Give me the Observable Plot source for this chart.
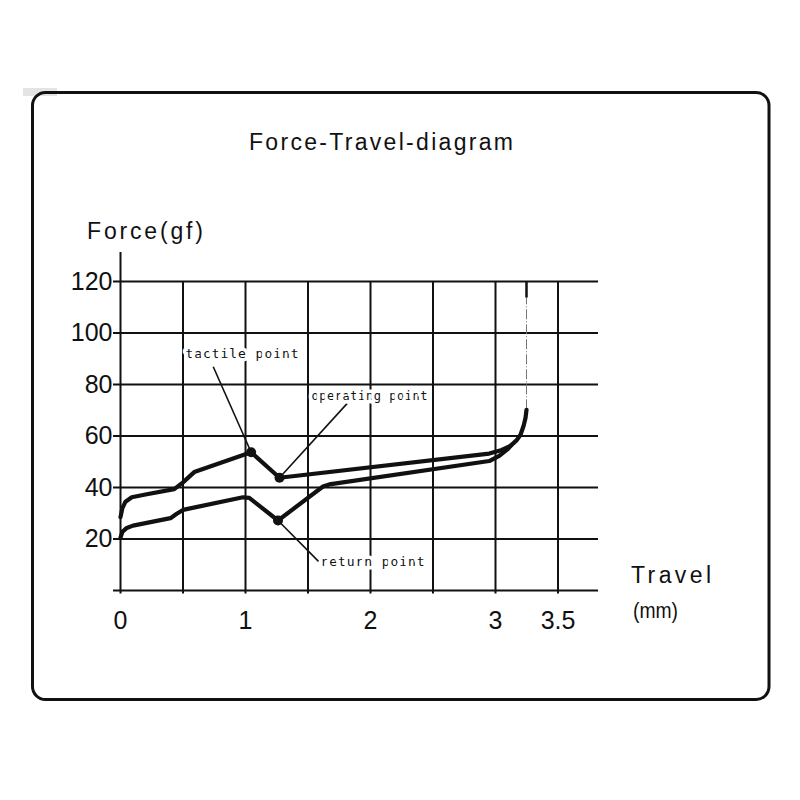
<!DOCTYPE html>
<html>
<head>
<meta charset="utf-8">
<script src="https://cdn.jsdelivr.net/npm/d3@7"></script>
<script src="https://cdn.jsdelivr.net/npm/@observablehq/plot@0.6"></script>
<style>
  html, body { margin: 0; padding: 0; background: #fff; }
  #wrap { position: relative; width: 800px; height: 800px; overflow: hidden; }
  #wrap > svg { position: absolute; left: 0; top: 0; }
</style>
</head>
<body>
<div id="wrap"></div>
<script>
// ---- data ----
const titleText = "Force-Travel-diagram";
const yLabelText = "Force(gf)";
const xLabelText = "Travel";
const xUnitText = "(mm)";

const yTicks = [20, 40, 60, 80, 100, 120];
const xTicks = [0, 1, 2, 3, 3.5];
const xGrid = [0.5, 1, 1.5, 2, 2.5, 3, 3.5];

// pressing (upper) curve
const pressTravel = [0, 0.015, 0.04, 0.09, 0.2, 0.43, 0.5, 0.59, 1.045, 1.272, 2.95, 3.05, 3.12, 3.17, 3.2, 3.225, 3.24, 3.248];
const pressForce  = [28.5, 32, 34.5, 36.2, 37.3, 39.4, 42, 46, 53.7, 43.8, 53.2, 54.6, 56.2, 58.4, 60.5, 64, 67, 70.2];

// return (lower) curve
const returnTravel = [0, 0.015, 0.05, 0.1, 0.4, 0.45, 0.5, 0.98, 1.03, 1.26, 1.62, 1.67, 2.95, 3.03, 3.1, 3.12];
const returnForce  = [20.5, 22.8, 24.3, 25.2, 28.1, 29.8, 31.3, 36.2, 36, 27.2, 40.4, 41.2, 50.3, 52.3, 55, 56.2];

// highlighted points
const pointNames  = ["tactile point", "operating point", "return point"];
const pointTravel = [1.045, 1.272, 1.26];
const pointForce  = [53.7, 43.8, 27.2];
// label anchors (data units)
const labelTravel = [0.52, 1.528, 1.6];
const labelForce  = [92.0, 75.5, 11.3];
// leader line ends at the label side
const leaderTravel = [0.742, 1.814, 1.584];
const leaderForce  = [86.9, 72.7, 11.3];

// max travel marker
const maxTravel = 3.248;
const maxForceOnCurve = 70.2;

// ---- build tables ----
const press = pressTravel.map((t, i) => ({t, f: pressForce[i]}));
const ret = returnTravel.map((t, i) => ({t, f: returnForce[i]}));
const pts = pointNames.map((n, i) => ({
  name: n, t: pointTravel[i], f: pointForce[i],
  lt: labelTravel[i], lf: labelForce[i],
  et: leaderTravel[i], ef: leaderForce[i]
}));

const ink = "#111";
const xMax = 3.824, yMax = 131.3;
const tickX = -0.056, tickY = -1.36;

const chart = Plot.plot({
  width: 800,
  height: 800,
  marginLeft: 120,
  marginRight: 202,
  marginTop: 252,
  marginBottom: 210,
  x: {domain: [0, xMax]},
  y: {domain: [0, yMax]},
  style: {background: "transparent", fontFamily: "'Liberation Sans', Arial, sans-serif", fontSize: "25px", color: ink},
  marks: [
    Plot.ruleY([0, ...yTicks], {x1: tickX, x2: xMax, stroke: ink, strokeWidth: 2}),
    Plot.ruleX(xGrid, {y1: tickY, y2: 120, stroke: ink, strokeWidth: 2}),
    Plot.ruleX([0], {y1: tickY, y2: yMax, stroke: ink, strokeWidth: 2}),
    Plot.axisY(yTicks, {tickSize: 0, tickPadding: 8, label: null, fontSize: 25}),
    Plot.axisX(xTicks, {tickSize: 0, tickPadding: 21, label: null, fontSize: 25, tickFormat: d => String(d)}),
    Plot.ruleX([maxTravel], {y1: maxForceOnCurve, y2: 113.6, stroke: "#777", strokeWidth: 1, strokeDasharray: "10,2,1,2"}),
    Plot.ruleX([maxTravel], {y1: 113.6, y2: 120, stroke: ink, strokeWidth: 2.5}),
    Plot.line(ret, {x: "t", y: "f", stroke: ink, strokeWidth: 4.2, strokeLinejoin: "round", strokeLinecap: "round"}),
    Plot.line(press, {x: "t", y: "f", stroke: ink, strokeWidth: 4.2, strokeLinejoin: "round", strokeLinecap: "round"}),
    Plot.link(pts, {x1: "t", y1: "f", x2: "et", y2: "ef", stroke: ink, strokeWidth: 1.6}),
    Plot.dot(pts, {x: "t", y: "f", r: 5, fill: ink, stroke: "none"}),
    Plot.text(pts, {
      x: "lt", y: "lf", text: "name", textAnchor: "start",
      fontFamily: "'DejaVu Sans Mono', monospace", fontSize: 13,
      fill: ink, stroke: "white", strokeWidth: 7, paintOrder: "stroke"
    })
  ]
});

document.getElementById("wrap").appendChild(chart);

// spread the annotation labels to the reference widths
const labelLengths = {"tactile point": 113, "operating point": 116, "return point": 104};
const labelSizes = {"tactile point": 13, "operating point": 12, "return point": 13};
d3.select(chart).selectAll("text").each(function() {
  const t = this.textContent;
  if (labelLengths[t] !== undefined) {
    d3.select(this)
      .attr("font-size", labelSizes[t])
      .style("font-size", labelSizes[t] + "px")
      .attr("textLength", labelLengths[t])
      .attr("lengthAdjust", "spacing");
  }
});

// ---- frame and titles (overlay) ----
const ov = d3.select("#wrap").append("svg")
  .attr("width", 800).attr("height", 800)
  .style("pointer-events", "none");

ov.append("rect").attr("x", 23).attr("y", 88).attr("width", 34).attr("height", 8).attr("fill", "#e4e4e4");
ov.append("rect")
  .attr("x", 32.5).attr("y", 92.5).attr("width", 736.5).attr("height", 607)
  .attr("rx", 13).attr("ry", 13)
  .attr("fill", "none").attr("stroke", ink).attr("stroke-width", 3);

function label(txt, x, y, size, len, adjust) {
  ov.append("text")
    .attr("x", x).attr("y", y)
    .attr("font-family", "'Liberation Sans', Arial, sans-serif")
    .attr("font-size", size)
    .attr("fill", ink)
    .attr("textLength", len)
    .attr("lengthAdjust", adjust || "spacing")
    .text(txt);
}
label(titleText, 249, 150, 23, 264);
label(yLabelText, 87, 238.5, 23, 116);
label(xLabelText, 631, 583, 23, 80);
label(xUnitText, 633, 618, 22, 45, "spacingAndGlyphs");
</script>
</body>
</html>
